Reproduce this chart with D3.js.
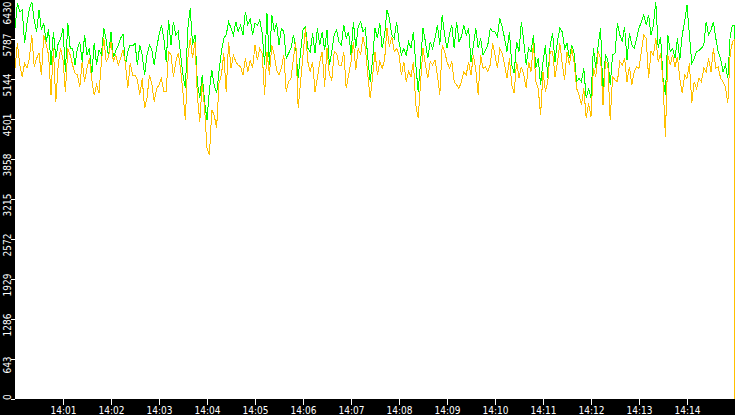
<!DOCTYPE html>
<html>
<head>
    <meta charset="UTF-8">
    <title>14:00 - 14:15</title>
    <script src="https://d3js.org/d3.v7.min.js"></script>
    <style>
        body {
            margin: 0;
            padding: 0;
            background-color: #000;
        }
        svg { display: block; }
        .axis text {
            font-family: 'DejaVu Sans Condensed', 'DejaVu Sans', sans-serif;
            font-size: 10px;
            fill: #fff;
        }
        .axis line { stroke: #fff; shape-rendering: crispEdges; }
    </style>
</head>
<body>
    <svg width="735" height="415"></svg>

    <script>
        // one sample every 3 s from 14:00:00, then two closing samples
        const startTime = "14:00:00";
        const endTime = "14:15:00";
        const stepSeconds = 3;
        const tailSeconds = [899, 900];

        const tickLabels = ["14:01", "14:02", "14:03", "14:04", "14:05", "14:06", "14:07",
            "14:08", "14:09", "14:10", "14:11", "14:12", "14:13", "14:14"];
        const yTicks = [0, 643, 1286, 1929, 2572, 3215, 3858, 4501, 5144, 5787, 6430];

        const greenValues = [
            // 14:00:00 - 14:02:30
            5959, 6360, 6226, 6253, 5717, 6039, 6280, 6387, 6093, 5905,
            6253, 5932, 6039, 5744, 5943, 5369, 5905, 5476, 5717, 5782,
            5959, 5262, 6039, 5637, 5637, 5369, 5637, 5744, 5423, 5851,
            5530, 5637, 5208, 5728, 5369, 5610, 5530, 5959, 5771, 5503,
            5905, 5492, 5600, 5675, 5798, 5867, 5369, 5584, 5691, 5675,
            // 14:02:30 - 14:05:00
            5717, 5369, 5691, 5530, 5208, 5530, 5691, 5610, 5369, 5637,
            5851, 6012, 5798, 5423, 6093, 5691, 6066, 5851, 5905, 5530,
            5208, 4994, 5959, 6280, 5691, 5851, 5075, 4833, 5208, 4780,
            4485, 4967, 5289, 5048, 4914, 5262, 5584, 5798, 5851, 6066,
            5959, 5851, 6066, 5905, 6012, 5851, 6226, 6012, 6119, 5851,
            // 14:05:00 - 14:07:30
            6039, 6012, 6093, 5878, 5369, 6200, 5369, 6173, 5905, 6039,
            5691, 5959, 5905, 5476, 5557, 5637, 5851, 5637, 5155, 5584,
            5932, 5985, 5637, 5584, 5878, 5557, 5959, 5691, 5905, 5610,
            5932, 5369, 5584, 5851, 5932, 5744, 5691, 6012, 5798, 5905,
            5530, 6066, 5637, 5985, 6066, 5905, 5959, 5476, 5101, 5450,
            // 14:07:30 - 14:10:00
            5959, 5798, 6039, 5637, 5851, 6253, 6119, 5851, 5798, 6066,
            5744, 5530, 5637, 5530, 5744, 5637, 5905, 5369, 4941, 5423,
            5959, 5744, 5476, 5744, 5637, 5798, 6012, 5691, 6173, 5851,
            5637, 5851, 6012, 5637, 6066, 5744, 5825, 6012, 5851, 5959,
            5423, 5691, 5959, 5637, 5798, 5530, 5610, 5691, 5959, 5905,
            // 14:10:00 - 14:12:30
            5905, 5825, 6119, 5985, 5798, 5584, 5905, 5369, 5235, 5744,
            5584, 6066, 5744, 5369, 5637, 5584, 5851, 5316, 5476, 5048,
            5423, 5691, 5155, 5691, 5878, 5423, 5744, 5959, 5905, 5637,
            5717, 5476, 5691, 5557, 5101, 5155, 5101, 5316, 4833, 4994,
            4833, 5637, 5316, 5691, 5959, 4887, 5530, 5460, 5048, 5530,
            // 14:12:30 - 14:15:00
            5557, 6039, 5851, 5744, 5985, 5450, 5878, 5691, 5637, 5798,
            5959, 6066, 6173, 6012, 6173, 5851, 6012, 6387, 5637, 5825,
            5155, 4887, 5851, 5584, 5637, 5476, 5798, 5450, 5851, 6066,
            6334, 5851, 5396, 5476, 5584, 5600, 5637, 5691, 6066, 5851,
            5932, 6066, 5798, 5584, 5476, 5262, 5369, 5155, 5851, 6012,
            // closing samples
            6012, 2878
        ];

        const orangeValues = [
            // 14:00:00 - 14:02:30
            5316, 5717, 5369, 5182, 5396, 5316, 5476, 5851, 5342, 5476,
            5557, 5208, 5851, 5691, 5530, 4887, 5637, 4780, 5369, 5637,
            5450, 4941, 5637, 5530, 5369, 5235, 5208, 5021, 5423, 5101,
            5316, 5476, 5128, 4887, 5048, 4914, 5423, 5798, 5423, 5503,
            5744, 5423, 5530, 5369, 5476, 5610, 5396, 4994, 5396, 5208,
            // 14:02:30 - 14:05:00
            5208, 5128, 4887, 5155, 4672, 4833, 5208, 5075, 4780, 4994,
            5048, 5155, 4941, 4941, 5584, 5530, 5182, 5423, 5557, 5316,
            4914, 4485, 5476, 5798, 5476, 5744, 4860, 4458, 5075, 4672,
            4030, 3923, 4646, 4565, 4351, 5075, 5208, 5557, 4941, 5744,
            5316, 5530, 5423, 5369, 5342, 5208, 5476, 5262, 5450, 5316,
            // 14:05:00 - 14:07:30
            5691, 5450, 5637, 5557, 4887, 5584, 5208, 5691, 5530, 5289,
            5208, 5316, 5530, 4941, 5101, 5155, 5476, 5744, 4672, 5101,
            5530, 5959, 5423, 5262, 5423, 4941, 5155, 5423, 5584, 5021,
            5637, 5208, 5128, 5584, 5557, 5369, 5369, 5584, 4994, 5208,
            5423, 5744, 5289, 5637, 5530, 5825, 5637, 5208, 4833, 5182,
            // 14:07:30 - 14:10:00
            5584, 5208, 5423, 5316, 5450, 5959, 5664, 5825, 5584, 5637,
            5530, 5208, 5423, 5101, 5262, 5182, 5423, 4726, 4512, 5101,
            5637, 5369, 5155, 5423, 5369, 5450, 5208, 4887, 5691, 5584,
            5423, 5316, 5423, 5101, 5048, 4994, 5101, 5262, 5208, 5423,
            5208, 5530, 5289, 4887, 5530, 5316, 5342, 5262, 5369, 5717,
            // 14:10:00 - 14:12:30
            5530, 5316, 5637, 5557, 5369, 5155, 5476, 5048, 4914, 5423,
            5155, 5342, 5208, 4994, 5423, 5262, 5717, 5101, 4994, 4565,
            5262, 4941, 5101, 5584, 5584, 5182, 5396, 5717, 5396, 5128,
            5584, 5369, 5637, 5396, 4994, 4887, 4726, 4994, 4512, 4753,
            4539, 5316, 5182, 5584, 5476, 4726, 5423, 5396, 4485, 5182,
            // 14:12:30 - 14:15:00
            5128, 5101, 5423, 5369, 5476, 5101, 5342, 5048, 5262, 5342,
            5316, 5584, 5851, 5798, 5155, 5584, 5530, 5798, 5423, 5557,
            5101, 4217, 5530, 5369, 5530, 5342, 5503, 5155, 4914, 5208,
            5155, 5396, 4753, 5101, 4994, 5155, 5101, 5316, 5262, 5476,
            5262, 5637, 5316, 5342, 5155, 5101, 5021, 4753, 5557, 5744,
            // closing samples
            5771, 0
        ];

        const width = 735, height = 415;
        const plotLeft = 15, plotBottom = 399;

        const parseTime = d3.timeParse("%H:%M:%S");
        const t0 = parseTime(startTime);
        const t1 = parseTime(endTime);

        const seconds = d3.range(0, greenValues.length - tailSeconds.length)
            .map(i => i * stepSeconds)
            .concat(tailSeconds);
        const times = seconds.map(s => d3.timeSecond.offset(t0, s));

        const svg = d3.select("svg");

        const x = d3.scaleTime().domain([t0, t1]).range([plotLeft, width]);
        const y = d3.scaleLinear().domain([0, 6430]).range([plotBottom, -1]);

        svg.append("rect")
            .attr("width", width).attr("height", height)
            .attr("fill", "#000");
        svg.append("rect")
            .attr("x", plotLeft).attr("y", 0)
            .attr("width", width - plotLeft).attr("height", plotBottom)
            .attr("fill", "#fff");

        const line = d3.line()
            .x((d, i) => x(times[i]))
            .y(d => y(d));

        svg.append("path")
            .attr("d", line(greenValues))
            .attr("fill", "none")
            .attr("stroke", "#00ff00")
            .attr("stroke-width", 1)
            .attr("shape-rendering", "crispEdges");

        svg.append("path")
            .attr("d", line(orangeValues))
            .attr("fill", "none")
            .attr("stroke", "#ffc000")
            .attr("stroke-width", 1)
            .attr("shape-rendering", "crispEdges");

        // time axis
        const parseMinute = d3.timeParse("%H:%M");
        const xAxis = svg.append("g")
            .attr("class", "axis")
            .attr("transform", `translate(0,${plotBottom})`)
            .call(d3.axisBottom(x)
                .tickValues(tickLabels.map(parseMinute))
                .tickFormat(d3.timeFormat("%H:%M"))
                .tickSize(6)
                .tickPadding(2));
        xAxis.select(".domain").remove();

        // value axis, labels turned on their side
        const yAxis = svg.append("g")
            .attr("class", "axis")
            .attr("transform", `translate(${plotLeft},0)`)
            .call(d3.axisLeft(y).tickValues(yTicks).tickSize(4).tickFormat(d3.format("d")));
        yAxis.select(".domain").remove();

        yAxis.selectAll(".tick").each(function (d) {
            const tick = d3.select(this);
            const ty = y(d);
            tick.attr("transform", "translate(0,0)");
            tick.select("line")
                .attr("y1", ty).attr("y2", ty);
            const txt = tick.select("text")
                .attr("x", 0).attr("y", 0).attr("dy", 0)
                .attr("text-anchor", "middle");
            const len = txt.node().getComputedTextLength();
            const c = Math.max(len / 2 + 1.5, Math.min(ty + 6, plotBottom + 1 - len / 2));
            txt.attr("transform", `translate(-4.5,${c}) rotate(-90)`);
        });
    </script>
</body>
</html>
